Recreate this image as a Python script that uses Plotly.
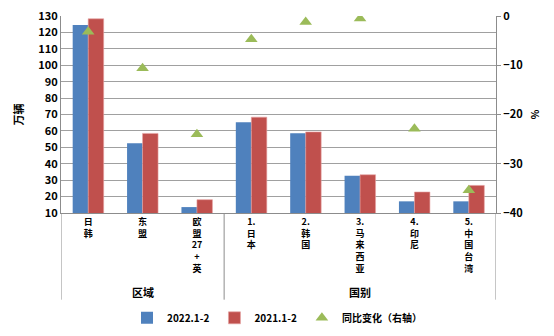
import plotly.graph_objects as go

categories = ["日韩", "东盟", "欧盟27+英", "1.日本", "2.韩国", "3.马来西亚", "4.印尼", "5.中国台湾"]
tick_labels = ["日<br>韩", "东<br>盟", "欧<br>盟<br>27<br>+<br>英", "1.<br>日<br>本", "2.<br>韩<br>国",
               "3.<br>马<br>来<br>西<br>亚", "4.<br>印<br>尼", "5.<br>中<br>国<br>台<br>湾"]
groups = ["区域", "国别"]
s2022 = [124.5, 52.5, 13.6, 65.3, 58.6, 32.7, 17.1, 17.1]
s2021 = [128.3, 58.5, 18.1, 68.4, 59.4, 33.3, 22.8, 26.8]
yoy = [-3.2, -10.6, -24.0, -4.7, -1.2, -0.5, -22.9, -35.4]

FONT = "Noto Sans CJK SC"
fig = go.Figure()
fig.add_trace(go.Bar(x=categories, y=s2022, name="2022.1-2", marker=dict(color="#4F81BD", line=dict(width=0))))
fig.add_trace(go.Bar(x=categories, y=s2021, name="2021.1-2", marker=dict(color="#C0504D", line=dict(color="#E6A3A2", width=0.6))))
fig.add_trace(go.Scatter(x=categories, y=yoy, name="同比变化（右轴）", mode="markers", yaxis="y2",
                         marker=dict(symbol="triangle-up", size=11, color="#9BBB59")))

grey = "#8C8C8C"
for xv in [-0.5, 2.5, 7.5]:
    fig.add_shape(type="line", xref="x", yref="paper", x0=xv, x1=xv, y0=0, y1=-0.44,
                  line=dict(color=grey, width=1))

fig.add_annotation(x=1, xref="x", y=-0.40, yref="paper", text=groups[0], showarrow=False,
                   font=dict(family=FONT, size=11, color="black", weight="bold"), yanchor="middle")
fig.add_annotation(x=5, xref="x", y=-0.40, yref="paper", text=groups[1], showarrow=False,
                   font=dict(family=FONT, size=11, color="black", weight="bold"), yanchor="middle")

fig.update_layout(
    width=554, height=336,
    margin=dict(l=61, r=58, t=16, b=123, autoexpand=False),
    paper_bgcolor="white", plot_bgcolor="white",
    barmode="group", bargap=0.43, bargroupgap=0,
    font=dict(family=FONT, size=11, color="black", weight="bold"),
    xaxis=dict(type="category", tickvals=categories, ticktext=tick_labels, showline=True, linecolor=grey,
               tickfont=dict(size=9), ticks="", range=[-0.5, 7.5], automargin=False),
    yaxis=dict(range=[10, 130], dtick=10, showgrid=True, gridcolor="#A0A0A0", gridwidth=1,
               showline=True, linecolor=grey, ticks="", zeroline=False, automargin=False,
               title=dict(text="万辆", standoff=12, font=dict(size=11))),
    yaxis2=dict(range=[-40, 0], dtick=10, overlaying="y", side="right", showgrid=False, zeroline=False,
                showline=True, linecolor=grey, ticks="outside", ticklen=4, tickcolor=grey, automargin=False,
                title=dict(text="%", standoff=10, font=dict(size=10))),
    legend=dict(orientation="h", x=0.5, xanchor="center", xref="container", y=0.054, yanchor="middle",
                yref="container", font=dict(size=10), itemwidth=30, tracegroupgap=0),
    showlegend=True,
)
fig.write_html("out.html")
